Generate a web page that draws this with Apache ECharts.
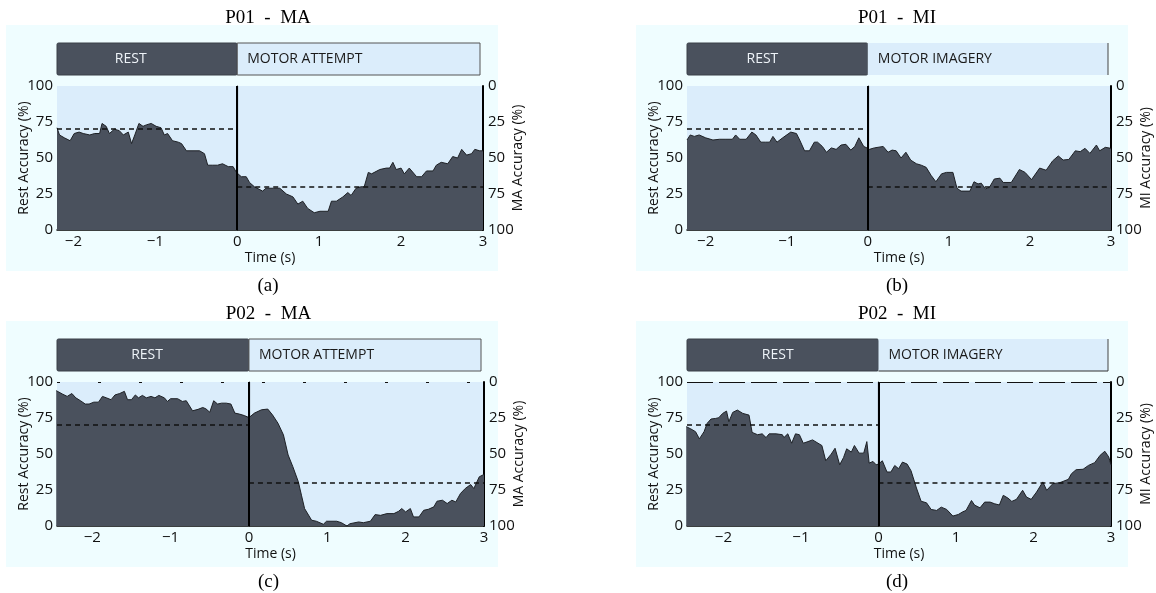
<!DOCTYPE html>
<html>
<head>
<meta charset="utf-8">
<script src="https://cdn.jsdelivr.net/npm/echarts@6/dist/echarts.min.js"></script>
<style>
html,body{margin:0;padding:0;background:#fff;}
#chart{width:1156px;height:593px;}
</style>
</head>
<body>
<div id="chart"></div>
<script>
// ---------------- DATA ----------------
const titles = ['P01  -  MA', 'P01  -  MI', 'P02  -  MA', 'P02  -  MI'];
const captions = ['(a)', '(b)', '(c)', '(d)'];
const restLabel = 'REST';
const taskLabels = ['MOTOR ATTEMPT', 'MOTOR IMAGERY', 'MOTOR ATTEMPT', 'MOTOR IMAGERY'];
const leftAxisName = 'Rest Accuracy (%)';
const rightAxisNames = ['MA Accuracy (%)', 'MI Accuracy (%)', 'MA Accuracy (%)', 'MI Accuracy (%)'];
const xAxisName = 'Time (s)';
const xTicks = [-2, -1, 0, 1, 2, 3];
const timeMin = [-2.2, -2.23, -2.45, -2.47];
const timeMax = 3;
const cueTime = 0;
const restChance = 70;   // dashed level during rest
const taskChance = 30;   // dashed level during task

const p01maTime = [-2.20,-2.17,-2.11,-2.04,-1.99,-1.93,-1.88,-1.80,-1.74,-1.68,-1.65,-1.60,-1.56,-1.50,-1.44,-1.39,-1.33,-1.29,-1.25,-1.20,-1.15,-1.11,-1.05,-0.99,-0.93,-0.89,-0.85,-0.79,-0.72,-0.68,-0.62,-0.54,-0.46,-0.40,-0.36,-0.30,-0.24,-0.18,-0.11,-0.05,-0.01,0.05,0.11,0.15,0.21,0.31,0.35,0.44,0.52,0.60,0.68,0.74,0.80,0.86,0.94,1.01,1.11,1.15,1.21,1.29,1.35,1.39,1.45,1.51,1.55,1.60,1.64,1.74,1.82,1.86,1.90,1.94,2.00,2.04,2.10,2.19,2.25,2.31,2.39,2.43,2.49,2.57,2.63,2.69,2.74,2.80,2.86,2.90,2.96,3.00];
const p01maAcc  = [71,66,64,62,67,68,67,66,67,67,74,72,67,70,69,66,68,60,66,74,72,73,74,72,71,66,67,62,61,60,55,55,55,53,45,45,45,46,44,44,40,37,37,33,30,27,29,29,29,25,23,18,20,15,12,13,13,20,20,23,26,24,29,30,30,40,39,42,43,43,47,42,43,39,43,37,37,41,41,45,47,46,51,50,56,52,53,56,55,55];

const p01miTime = [-2.23,-2.19,-2.14,-2.08,-2.00,-1.91,-1.83,-1.75,-1.67,-1.63,-1.58,-1.50,-1.43,-1.38,-1.32,-1.26,-1.21,-1.17,-1.12,-1.05,-0.95,-0.88,-0.84,-0.78,-0.72,-0.66,-0.62,-0.56,-0.51,-0.45,-0.39,-0.33,-0.27,-0.21,-0.16,-0.11,-0.05,-0.01,0.02,0.08,0.19,0.25,0.30,0.35,0.41,0.47,0.53,0.60,0.66,0.72,0.78,0.84,0.91,0.97,1.05,1.10,1.15,1.26,1.31,1.36,1.40,1.45,1.50,1.56,1.63,1.67,1.77,1.87,1.94,2.02,2.12,2.20,2.28,2.35,2.41,2.48,2.56,2.62,2.68,2.74,2.82,2.86,2.93,3.00];
const p01miAcc  = [62.5,66,65,66,64,62.5,63,63,63,66,63,63,68,66,61,61,61,65,61,64,68,67,62.5,55,55,61,61,58,54,57,56,59,59.5,55.5,58,64,58,57,56,57,58,54,55.5,55,50,54,48.5,46,45,43.5,38,33.5,39,40,40,29,27,27,33.5,32,32.5,28.5,29.6,35.4,36,33,33,42,40,35,43,41.5,48,51.4,48.6,49,55,54.4,56.7,53.2,59,55,57.4,56.7];

const p02maTime = [-2.46,-2.38,-2.32,-2.26,-2.21,-2.15,-2.09,-2.04,-1.98,-1.92,-1.87,-1.82,-1.76,-1.71,-1.65,-1.59,-1.55,-1.50,-1.45,-1.41,-1.36,-1.31,-1.25,-1.20,-1.15,-1.08,-1.04,-1.00,-0.91,-0.85,-0.80,-0.72,-0.65,-0.59,-0.55,-0.50,-0.45,-0.40,-0.35,-0.29,-0.23,-0.18,-0.12,-0.06,0.00,0.07,0.16,0.24,0.30,0.37,0.44,0.50,0.56,0.63,0.67,0.71,0.80,0.86,0.95,0.99,1.12,1.18,1.25,1.29,1.40,1.46,1.55,1.61,1.68,1.76,1.85,1.91,1.95,2.00,2.06,2.10,2.17,2.23,2.29,2.36,2.40,2.47,2.53,2.59,2.64,2.70,2.76,2.83,2.87,2.94,3.00];
const p02maAcc  = [94,91.6,90,92,89,87,84.7,84.7,86,86,90,89,87.7,91,92,93.5,87.7,87.7,91,89,90.7,89,90,89,90.7,89,86.5,88.4,88.4,86.5,87,80,81,82.3,81.4,79,87,84.7,85.3,85.3,84.7,78.4,77.7,76.7,75.3,78.4,80.7,81.2,77.2,71.4,63.3,49.3,41.2,30.7,21.4,12.1,4,3.3,1.2,3.3,3.3,2.3,0,1.6,2.8,2.3,3.3,7.9,7.4,8.6,8.6,10.2,12.1,9.8,12.1,6.3,6.3,10.9,11.6,13.3,17.2,17.9,15.6,17.9,16.7,22.6,26,28.8,26,34.2,35.8];

const p02miTime = [-2.48,-2.42,-2.36,-2.31,-2.25,-2.21,-2.16,-2.10,-2.06,-2.01,-1.96,-1.93,-1.88,-1.82,-1.75,-1.67,-1.63,-1.56,-1.50,-1.45,-1.41,-1.32,-1.24,-1.22,-1.17,-1.12,-1.07,-1.02,-0.97,-0.91,-0.85,-0.78,-0.73,-0.68,-0.61,-0.56,-0.50,-0.45,-0.41,-0.35,-0.31,-0.25,-0.19,-0.15,-0.12,-0.07,-0.03,0.00,0.05,0.11,0.16,0.21,0.26,0.31,0.37,0.42,0.49,0.55,0.62,0.68,0.75,0.81,0.88,0.96,1.03,1.09,1.13,1.20,1.24,1.31,1.37,1.44,1.50,1.56,1.61,1.67,1.72,1.78,1.86,1.91,1.97,2.04,2.12,2.17,2.25,2.34,2.45,2.49,2.55,2.64,2.71,2.79,2.86,2.92,2.97,3.00];
const p02miAcc  = [69,67.4,65.5,60.5,65.5,71.3,74.3,74.7,75.2,78.2,79.8,72.4,78.9,80.5,78.2,77,65,63.4,64,61.4,64,64,63.4,61.4,64,57.5,64,63.4,57.5,58.6,59.8,57.5,55.9,45.3,49.9,54,42.5,47.6,53.6,51.3,55.9,50.6,50.6,58.6,43.7,44.8,42.5,43,45.3,37.5,37.5,42,39.8,44.4,43,38.4,26.4,17.2,16.1,11.5,10.8,13.1,11.5,6.9,8,9.9,10.8,17.7,14.5,12.6,16.6,16.6,15.4,14.6,21.3,19.4,17.1,18.5,24.8,20.1,18.5,23.6,30.6,24.8,29.4,30.1,32.4,36.3,39.1,39.4,42.1,44,49.1,51.9,48,42.6];

const panelTimes = [p01maTime, p01miTime, p02maTime, p02miTime];
const panelAcc = [p01maAcc, p01miAcc, p02maAcc, p02miAcc];

// ---------------- STYLE / LAYOUT ----------------
const DARK = '#4a515d';
const PLOT_BG = '#dbedfb';
const PANEL_BG = '#effdff';
const SANS = '"Open Sans", "DejaVu Sans", sans-serif';
const SERIF = '"Liberation Serif", "DejaVu Serif", serif';
const offsets = [[0, 0], [630, 0], [0, 296], [630, 296]];
const plotW = [426, 424, 427, 424];
const topDash = [null, null, [3, 38], [26, 6]];
const barBorders = ['all', 'right', 'all', 'bottomright'];
const restLabelAt = -1.3;
const TICK_FS = 15, NAME_FS = 14, BAR_FS = 14;

const chart = echarts.init(document.getElementById('chart'), null, {renderer: 'canvas'});

const grid = [], xAxis = [], yAxis = [], series = [], graphic = [];
const fmtTick = v => (v < 0 ? '\u2212' + (-v) : String(v));

for (let i = 0; i < 4; i++) {
  const [ox, oy] = offsets[i];
  const left = 57 + ox;
  const w = plotW[i];
  const cx = left + w / 2 - 2;

  graphic.push({type: 'rect', z: -10, silent: true,
    shape: {x: 6 + ox, y: 25 + oy, width: 492, height: 246},
    style: {fill: PANEL_BG}});
  graphic.push({type: 'text', silent: true, x: cx, y: 18 + oy,
    style: {text: titles[i], textAlign: 'center', textVerticalAlign: 'middle',
      font: '19px ' + SERIF, fill: '#000'}});
  graphic.push({type: 'text', silent: true, x: cx, y: 286 + oy,
    style: {text: captions[i], textAlign: 'center', textVerticalAlign: 'middle',
      font: '19px ' + SERIF, fill: '#000'}});

  grid.push({left: left, top: 43 + oy, width: w, height: 32, show: false});
  grid.push({left: left, top: 86 + oy, width: w, height: 144, show: true,
    backgroundColor: PLOT_BG, borderWidth: 0});

  const gb = 2 * i, gp = 2 * i + 1;
  xAxis.push({type: 'value', gridIndex: gb, min: timeMin[i], max: timeMax, show: false});
  xAxis.push({type: 'value', gridIndex: gp, min: timeMin[i], max: timeMax,
    name: xAxisName, nameLocation: 'middle', nameGap: 21, nameMoveOverlap: false,
    nameTextStyle: {fontFamily: SANS, fontSize: NAME_FS, color: '#111'},
    axisLine: {show: true, onZero: false, lineStyle: {color: '#000', width: 1.5}},
    axisTick: {show: false},
    splitLine: {show: false},
    axisLabel: {customValues: xTicks, formatter: fmtTick, margin: 4,
      fontFamily: SANS, fontSize: TICK_FS, color: '#111'}});

  const yb = yAxis.length;
  yAxis.push({type: 'value', gridIndex: gb, min: 0, max: 1, show: false});
  const yl = yAxis.length;
  yAxis.push({type: 'value', gridIndex: gp, min: 0, max: 100, interval: 25, position: 'left',
    name: leftAxisName, nameLocation: 'middle', nameGap: 26, nameRotate: 90, nameMoveOverlap: false,
    nameTextStyle: {fontFamily: SANS, fontSize: NAME_FS, color: '#111'},
    axisLine: {show: true, lineStyle: {color: '#333', width: 1.2}},
    axisTick: {show: false}, splitLine: {show: false},
    axisLabel: {margin: 4, fontFamily: SANS, fontSize: TICK_FS, color: '#111'}});
  yAxis.push({type: 'value', gridIndex: gp, min: 0, max: 100, interval: 25, position: 'right',
    inverse: true,
    name: rightAxisNames[i], nameLocation: 'middle', nameGap: 28, nameRotate: 90, nameMoveOverlap: false,
    nameTextStyle: {fontFamily: SANS, fontSize: NAME_FS, color: '#111'},
    axisLine: {show: true, lineStyle: {color: '#000', width: 2}},
    axisTick: {show: false}, splitLine: {show: false},
    axisLabel: {margin: 5, fontFamily: SANS, fontSize: TICK_FS, color: '#111'}});

  const border = barBorders[i];
  series.push({type: 'custom', xAxisIndex: gb, yAxisIndex: yb, clip: false, silent: true,
    data: [[timeMin[i], cueTime, 0], [cueTime, timeMax, 1]],
    renderItem: function (params, api) {
      const a = api.value(0), b = api.value(1), kind = api.value(2);
      const p0 = api.coord([a, 1]), p1 = api.coord([b, 0]);
      const x = p0[0], y = p0[1], h = p1[1] - p0[1];
      if (kind === 0) {
        const tc = api.coord([restLabelAt, 0.5]);
        return {type: 'group', children: [
          {type: 'rect', shape: {x: x, y: y, width: p1[0] - x, height: h, r: 1.5},
            style: {fill: DARK, stroke: '#3a4049', lineWidth: 1}},
          {type: 'text', x: tc[0], y: tc[1],
            style: {text: restLabel, textAlign: 'center', textVerticalAlign: 'middle',
              font: BAR_FS + 'px ' + SANS, fill: '#eef3f8'}}
        ]};
      }
      const wdt = p1[0] - x - 3;
      const kids = [{type: 'rect', shape: {x: x, y: y, width: wdt, height: h},
        style: {fill: PLOT_BG, stroke: border === 'all' ? '#555' : null, lineWidth: 1}}];
      if (border !== 'all') {
        kids.push({type: 'line', shape: {x1: x + wdt, y1: y, x2: x + wdt, y2: y + h},
          style: {stroke: '#444', lineWidth: 1}});
        if (border === 'bottomright') {
          kids.push({type: 'line', shape: {x1: x, y1: y + h, x2: x + wdt, y2: y + h},
            style: {stroke: '#333', lineWidth: 1.2}});
        }
      }
      kids.push({type: 'text', x: x + 10, y: y + h / 2,
        style: {text: taskLabels[i], textAlign: 'left', textVerticalAlign: 'middle',
          font: BAR_FS + 'px ' + SANS, fill: '#1a1a1a'}});
      return {type: 'group', children: kids};
    }});

  const times = panelTimes[i], acc = panelAcc[i];
  const pts = times.map((t, k) => [t, acc[k]]);
  const ml = [
    [{coord: [timeMin[i], restChance]}, {coord: [cueTime, restChance]}],
    [{coord: [cueTime, taskChance]}, {coord: [timeMax, taskChance]}],
    {xAxis: cueTime, lineStyle: {type: 'solid', width: 2, color: '#000'}}
  ];
  if (topDash[i]) {
    ml.push([{coord: [timeMin[i], 100], lineStyle: {type: topDash[i], width: 1.2, color: '#111'}},
             {coord: [timeMax, 100]}]);
  }
  series.push({type: 'line', xAxisIndex: gp, yAxisIndex: yl, data: pts,
    showSymbol: false, symbol: 'none', silent: true, animation: false,
    lineStyle: {color: '#1e2126', width: 1},
    areaStyle: {color: DARK, opacity: 1},
    markLine: {silent: true, symbol: 'none', animation: false, label: {show: false},
      lineStyle: {type: [5, 4], width: 1.7, color: '#111'},
      data: ml}});
}

chart.setOption({animation: false, grid, xAxis, yAxis, series, graphic});
</script>
</body>
</html>
